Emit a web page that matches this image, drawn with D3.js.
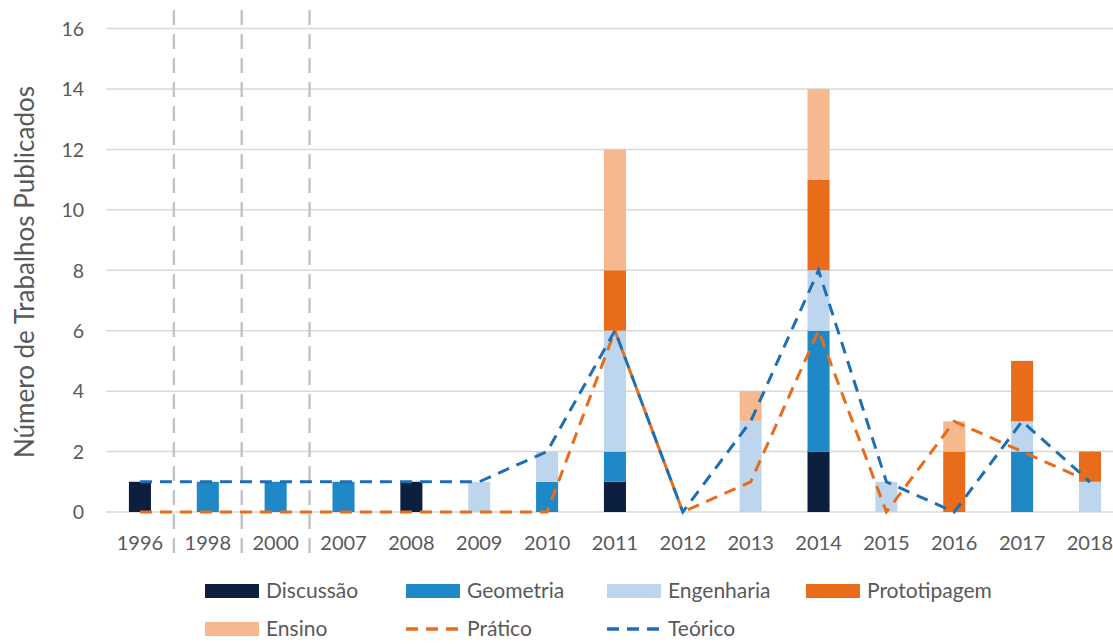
<!DOCTYPE html>
<html>
<head>
<meta charset="utf-8">
<script src="https://cdn.jsdelivr.net/npm/d3@7"></script>
<style>
  html, body { margin: 0; padding: 0; background: #ffffff; }
  svg { display: block; }
  text { font-family: Lato, "Open Sans", sans-serif; fill: #595959; }
</style>
</head>
<body>
<svg id="chart" width="1113" height="644"></svg>
<script>
// Publication years
const years = ["1996","1998","2000","2007","2008","2009","2010","2011","2012","2013","2014","2015","2016","2017","2018"];

// Stacked categories per year
const discussao    = [1,0,0,0,1,0,0,1,0,0,2,0,0,0,0];
const geometria    = [0,1,1,1,0,0,1,1,0,0,4,0,0,2,0];
const engenharia   = [0,0,0,0,0,1,1,4,0,3,2,1,0,1,1];
const prototipagem = [0,0,0,0,0,0,0,2,0,0,3,0,2,2,1];
const ensino       = [0,0,0,0,0,0,0,4,0,1,3,0,1,0,0];

// Line series
const pratico = [0,0,0,0,0,0,0,6,0,1,6,0,3,2,1];
const teorico = [1,1,1,1,1,1,2,6,0,3,8,1,0,3,1];

const yTicks = [0,2,4,6,8,10,12,14,16];
const gapAfter = ["1996","1998","2000"]; // breaks in the year sequence

const seriesNames  = ["Discussão","Geometria","Engenharia","Prototipagem","Ensino"];
const seriesData   = [discussao, geometria, engenharia, prototipagem, ensino];
const seriesColors = ["#0c1f3e","#1f88c6","#bdd6ee","#e96c1b","#f5b88f"];
const praticoColor = "#e96c1b";
const teoricoColor = "#1d6fb5";

const svg = d3.select("#chart");
const left = 106, step = 67.86;
const x = d3.scaleBand().domain(years).range([left, left + step * years.length]).paddingInner(0.675).paddingOuter(0.3375);
const y = d3.scaleLinear().domain([0, 16]).range([512, 28.5]);
const cx = d => x(d) + x.bandwidth() / 2;

// Gridlines
svg.append("g").selectAll("line").data(yTicks).join("line")
  .attr("x1", left).attr("x2", 1113)
  .attr("y1", d => y(d)).attr("y2", d => y(d))
  .attr("stroke", "#d9d9d9").attr("stroke-width", 1.5);

// Y tick labels
const yAxis = d3.axisLeft(y).tickValues(yTicks).tickSize(0).tickPadding(0);
const gy = svg.append("g").attr("transform", "translate(84,0)").call(yAxis);
gy.select(".domain").remove();
gy.selectAll("text").attr("font-size", 19.5).style("font-family", "Lato, sans-serif").attr("fill", "#595959").attr("dy", "0.35em");

// Y axis title
svg.append("text")
  .attr("transform", "translate(34,272) rotate(-90)")
  .attr("text-anchor", "middle")
  .attr("font-size", 26)
  .text("Número de Trabalhos Publicados");

// X labels
const xAxis = d3.axisBottom(x).tickSize(0).tickPadding(0);
const gx = svg.append("g").attr("transform", "translate(0,536)").call(xAxis);
gx.select(".domain").remove();
gx.selectAll("text").attr("font-size", 20).style("font-family", "Lato, sans-serif").attr("fill", "#595959").attr("dy", "0.72em");

// Dashed separators marking breaks in the year sequence
svg.append("g").selectAll("line").data(gapAfter).join("line")
  .attr("x1", d => x(d) + x.bandwidth() + x.step() * x.paddingInner() / 2)
  .attr("x2", d => x(d) + x.bandwidth() + x.step() * x.paddingInner() / 2)
  .attr("y1", 10).attr("y2", 562)
  .attr("stroke", "#c4c4c8").attr("stroke-width", 2.5)
  .attr("stroke-dasharray", "15,9");

// Stacked bars
const table = years.map((yr, i) => {
  const row = { year: yr };
  seriesNames.forEach((n, k) => row[n] = seriesData[k][i]);
  return row;
});
const stacked = d3.stack().keys(seriesNames)(table);
svg.append("g").selectAll("g").data(stacked).join("g")
  .attr("fill", (d, i) => seriesColors[i])
  .selectAll("rect").data(d => d.filter(s => s[1] > s[0])).join("rect")
  .attr("x", d => x(d.data.year))
  .attr("width", x.bandwidth())
  .attr("y", d => y(d[1]))
  .attr("height", d => y(d[0]) - y(d[1]));

// Lines
const line = d3.line().x((d, i) => cx(years[i])).y(d => y(d));
svg.append("path").datum(pratico)
  .attr("d", line).attr("fill", "none")
  .attr("stroke", praticoColor).attr("stroke-width", 3)
  .attr("stroke-dasharray", "12,8");
svg.append("path").datum(teorico)
  .attr("d", line).attr("fill", "none")
  .attr("stroke", teoricoColor).attr("stroke-width", 3)
  .attr("stroke-dasharray", "12,8");

// Legend
const legend = svg.append("g");
const row1 = 591, row2 = 629;
const colX = [205, 406, 607, 806];
const items = [
  { name: "Discussão", type: "rect", color: seriesColors[0], x: colX[0], y: row1 },
  { name: "Geometria", type: "rect", color: seriesColors[1], x: colX[1], y: row1 },
  { name: "Engenharia", type: "rect", color: seriesColors[2], x: colX[2], y: row1 },
  { name: "Prototipagem", type: "rect", color: seriesColors[3], x: colX[3], y: row1 },
  { name: "Ensino", type: "rect", color: seriesColors[4], x: colX[0], y: row2 },
  { name: "Prático", type: "line", color: praticoColor, x: colX[1], y: row2 },
  { name: "Teórico", type: "line", color: teoricoColor, x: colX[2], y: row2 }
];
items.forEach(it => {
  if (it.type === "rect") {
    legend.append("rect").attr("x", it.x).attr("y", it.y - 7).attr("width", 54).attr("height", 14).attr("fill", it.color);
  } else {
    legend.append("line").attr("x1", it.x).attr("x2", it.x + 54).attr("y1", it.y).attr("y2", it.y)
      .attr("stroke", it.color).attr("stroke-width", 3.5).attr("stroke-dasharray", "12,8");
  }
  legend.append("text").attr("x", it.x + 61).attr("y", it.y)
    .attr("dy", "0.35em").attr("font-size", 21).text(it.name);
});
</script>
</body>
</html>
